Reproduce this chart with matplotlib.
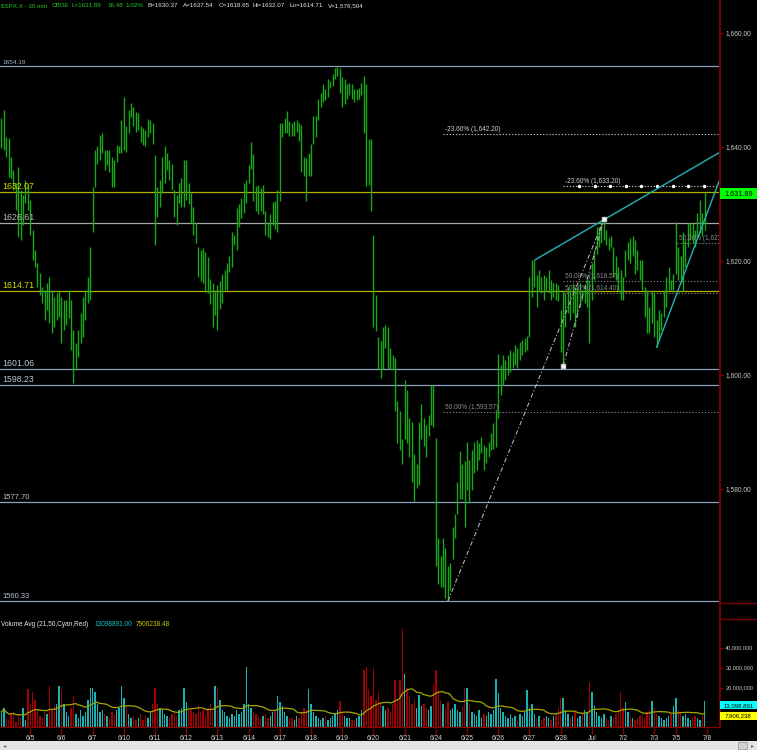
import numpy as np
import pandas as pd
import matplotlib
matplotlib.use("Agg")
import matplotlib.pyplot as plt
from matplotlib.lines import Line2D
from matplotlib.patches import Rectangle
from matplotlib import transforms

plt.rcParams['font.family'] = ['Liberation Sans', 'DejaVu Sans']

# ---------------- DATA (30-min bars, SPX) ----------------
day_labels = ['6/4', '6/5', '6/6', '6/7', '6/10', '6/11', '6/12', '6/13', '6/14', '6/17', '6/18',
              '6/19', '6/20', '6/21', '6/24', '6/25', '6/26', '6/27', '6/28', 'Jul', '7/2', '7/3', '7/5']
next_day_label = '7/8'

h_0604 = [1645.1, 1646.5, 1641.8, 1641.6, 1638.2, 1636.0, 1633.7, 1636.5, 1632.5, 1631.6, 1634.2, 1633.5]
l_0604 = [1639.8, 1639.5, 1638.2, 1634.7, 1634.6, 1632.5, 1629.0, 1624.2, 1623.7, 1626.3, 1630.2, 1629.0]
v_0604 = [8, 10, 5, 4, 7, 8, 3, 6, 5, 10, 4, 19.5]

h_0605 = [1630.7, 1625.4, 1621.9, 1619.6, 1617.9, 1615.4, 1614.9, 1616.1, 1617.2, 1614.9, 1613.7, 1614.4, 1614.9]
l_0605 = [1624.6, 1620.2, 1619.0, 1615.4, 1614.0, 1612.6, 1609.6, 1611.4, 1609.1, 1607.4, 1608.4, 1609.6, 1610.2]
v_0605 = [12, 18, 14, 9, 6, 5, 8, 7, 21, 9, 11, 12, 21]

h_0606 = [1613.7, 1613.2, 1613.2, 1614.9, 1613.2, 1607.9, 1605.6, 1607.9, 1610.9, 1613.7, 1614.9, 1617.2, 1622.5]
l_0606 = [1605.6, 1607.9, 1608.8, 1610.0, 1604.4, 1598.6, 1600.9, 1603.2, 1605.6, 1606.7, 1609.6, 1612.6, 1613.2]
v_0606 = [19.5, 12, 8, 6, 10, 16, 7, 5, 9, 6, 8, 14, 20]

h_0607 = [1633.0, 1639.5, 1640.1, 1642.1, 1642.5, 1639.5, 1639.5, 1639.5, 1638.3, 1637.7, 1640.4, 1640.1, 1644.7]
l_0607 = [1625.1, 1633.0, 1637.1, 1637.7, 1638.9, 1636.0, 1636.8, 1635.7, 1633.0, 1633.0, 1637.4, 1638.9, 1638.9]
v_0607 = [20, 18, 12, 8, 9, 7, 6, 5, 8, 7, 9, 10, 21]

h_0610 = [1648.7, 1643.6, 1646.5, 1647.7, 1647.1, 1646.2, 1646.0, 1643.6, 1643.3, 1643.0, 1645.0, 1644.7, 1644.2]
l_0610 = [1639.5, 1639.2, 1642.5, 1645.3, 1643.6, 1642.7, 1642.9, 1640.9, 1640.4, 1640.1, 1641.8, 1642.5, 1640.6]
v_0610 = [15, 11, 7, 5, 6, 4, 5, 7, 4, 6, 5, 8, 12]

h_0611 = [1638.6, 1633.0, 1634.2, 1638.3, 1640.1, 1638.9, 1637.7, 1637.1, 1632.5, 1631.6, 1633.7, 1634.6, 1637.7]
l_0611 = [1622.8, 1627.8, 1629.5, 1631.9, 1633.6, 1636.0, 1634.2, 1632.5, 1627.8, 1626.4, 1630.2, 1629.5, 1629.5]
v_0611 = [20, 12, 10, 9, 7, 6, 5, 7, 8, 6, 9, 10, 20]

h_0612 = [1637.7, 1633.6, 1631.9, 1629.5, 1626.9, 1622.5, 1621.9, 1622.2, 1621.5, 1620.7, 1616.8, 1616.1, 1614.5]
l_0612 = [1630.7, 1630.0, 1626.7, 1624.6, 1623.1, 1617.2, 1616.5, 1616.1, 1614.5, 1614.4, 1612.5, 1608.5, 1610.5]
v_0612 = [13, 10, 9, 8, 7, 11, 8, 9, 6, 10, 12, 9, 21]

h_0613 = [1615.8, 1616.5, 1617.7, 1618.4, 1619.6, 1620.8, 1625.1, 1624.6, 1629.3, 1630.0, 1631.0, 1633.7, 1634.2]
l_0613 = [1607.9, 1611.5, 1612.6, 1614.9, 1615.0, 1618.0, 1619.0, 1622.8, 1621.9, 1626.0, 1627.6, 1628.4, 1630.2]
v_0613 = [20, 14, 9, 8, 6, 5, 7, 6, 9, 7, 8, 12, 30.5]

h_0614 = [1636.8, 1640.8, 1638.7, 1633.1, 1633.4, 1632.8, 1633.4, 1628.8, 1626.9, 1628.2, 1630.3, 1630.6, 1632.5]
l_0614 = [1633.7, 1636.2, 1630.6, 1628.8, 1628.2, 1628.8, 1628.2, 1624.5, 1624.2, 1623.9, 1626.3, 1625.7, 1625.1]
v_0614 = [12, 10, 8, 7, 6, 5, 6, 7, 5, 6, 8, 9, 16]

h_0617 = [1644.2, 1644.2, 1645.1, 1646.4, 1644.5, 1644.2, 1644.5, 1644.8, 1644.2, 1643.9, 1638.3, 1638.0, 1638.9]
l_0617 = [1630.6, 1641.7, 1642.4, 1642.4, 1642.0, 1642.0, 1642.0, 1642.7, 1641.1, 1635.6, 1634.9, 1630.6, 1634.9]
v_0617 = [13, 11, 8, 6, 5, 5, 4, 6, 5, 8, 10, 9, 19.5]

h_0618 = [1640.5, 1645.4, 1645.4, 1648.5, 1649.4, 1651.0, 1650.1, 1651.9, 1651.6, 1652.8, 1653.8, 1654.1, 1653.8]
l_0618 = [1634.9, 1640.5, 1641.7, 1644.8, 1647.0, 1647.9, 1648.2, 1648.8, 1650.4, 1650.7, 1651.9, 1652.5, 1649.4]
v_0618 = [12, 8, 6, 5, 4, 5, 6, 4, 5, 6, 7, 9, 13.5]

h_0619 = [1652.2, 1651.9, 1651.0, 1651.3, 1651.0, 1650.1, 1650.1, 1650.4, 1651.3, 1652.5, 1651.0, 1641.4, 1641.4]
l_0619 = [1647.0, 1647.6, 1648.5, 1649.1, 1648.5, 1647.9, 1648.2, 1648.5, 1649.1, 1642.4, 1633.1, 1633.4, 1628.8]
v_0619 = [8, 6, 5, 5, 4, 4, 5, 6, 9, 29, 30.5, 19.5, 16]

h_0620 = [1624.5, 1614.0, 1606.6, 1606.0, 1608.4, 1608.7, 1608.4, 1604.7, 1603.5, 1602.9, 1595.5, 1593.6, 1588.7]
l_0620 = [1608.4, 1607.8, 1601.0, 1599.5, 1601.0, 1604.7, 1601.0, 1601.0, 1601.0, 1593.6, 1588.1, 1586.9, 1584.4]
v_0620 = [30, 14, 18, 12, 11, 9, 10, 8, 12, 24, 14, 24, 49.5]

h_0621 = [1599.2, 1597.3, 1592.4, 1591.8, 1586.2, 1584.4, 1591.8, 1594.9, 1592.4, 1591.2, 1593.0, 1598.3, 1598.3]
l_0621 = [1588.7, 1588.1, 1585.6, 1581.3, 1577.9, 1580.1, 1580.7, 1588.7, 1587.5, 1585.6, 1589.3, 1591.2, 1590.9]
v_0621 = [27, 20, 16, 12, 14, 10, 16.5, 11, 12, 10, 9, 11, 22]

h_0624 = [1589.0, 1571.4, 1568.3, 1571.4, 1569.6, 1566.5, 1567.1, 1573.3, 1575.7, 1581.3, 1586.6, 1584.4, 1585.0]
l_0624 = [1566.5, 1563.4, 1562.8, 1562.8, 1560.9, 1560.3, 1562.2, 1567.7, 1571.4, 1575.7, 1578.2, 1578.2, 1573.3]
v_0624 = [29, 19, 14, 12, 10, 13, 9, 10, 12, 9, 8, 11, 20]

h_0625 = [1588.3, 1585.1, 1586.8, 1588.3, 1588.6, 1588.0, 1589.2, 1587.7, 1587.4, 1588.3, 1589.8, 1591.5, 1593.9]
l_0625 = [1579.8, 1577.5, 1579.8, 1582.8, 1583.3, 1585.1, 1586.3, 1583.3, 1584.5, 1585.7, 1586.8, 1587.1, 1587.4]
v_0625 = [20, 12, 8, 7, 6, 9, 5, 7, 6, 8, 7, 9, 24.5]

h_0626 = [1603.7, 1601.8, 1603.5, 1602.6, 1603.5, 1604.4, 1604.0, 1605.3, 1604.7, 1605.8, 1606.1, 1606.5, 1606.8]
l_0626 = [1592.5, 1596.5, 1598.2, 1599.1, 1600.0, 1600.5, 1601.2, 1601.8, 1601.2, 1602.6, 1603.5, 1604.0, 1604.4]
v_0626 = [17.5, 10, 8, 6, 5, 7, 5, 6, 4, 7, 6, 8, 19]

h_0627 = [1617.2, 1620.2, 1620.2, 1617.5, 1618.4, 1617.2, 1617.5, 1617.2, 1618.4, 1616.7, 1616.1, 1616.1, 1615.8]
l_0627 = [1606.7, 1613.7, 1615.5, 1612.0, 1614.9, 1614.3, 1613.1, 1614.9, 1614.3, 1613.1, 1613.7, 1613.1, 1612.9]
v_0627 = [10, 12, 7, 5, 6, 4, 5, 6, 5, 4, 6, 7, 10]

h_0628 = [1611.4, 1614.9, 1614.3, 1615.5, 1614.9, 1616.1, 1615.5, 1615.5, 1616.1, 1614.9, 1615.5, 1617.2, 1616.7]
l_0628 = [1604.0, 1601.5, 1608.5, 1610.8, 1609.6, 1610.8, 1608.5, 1610.2, 1612.0, 1613.1, 1612.6, 1612.0, 1605.6]
v_0628 = [15, 15, 9, 7, 5, 6, 8, 5, 6, 7, 9, 8, 23]

h_0701 = [1619.6, 1621.9, 1626.0, 1626.0, 1627.2, 1627.4, 1625.4, 1624.0, 1624.3, 1622.5, 1620.8, 1619.0, 1618.4]
l_0701 = [1613.1, 1616.7, 1621.3, 1622.5, 1623.1, 1623.7, 1622.8, 1621.9, 1622.5, 1617.2, 1616.7, 1614.9, 1613.1]
v_0701 = [18, 11, 8, 6, 5, 7, 5, 4, 6, 5, 7, 9, 18]

h_0702 = [1617.2, 1621.9, 1623.4, 1624.0, 1624.3, 1623.7, 1621.9, 1620.2, 1620.2, 1615.5, 1614.9, 1612.0, 1614.9]
l_0702 = [1613.1, 1617.2, 1620.2, 1619.6, 1620.8, 1617.8, 1618.4, 1616.7, 1614.9, 1610.2, 1607.3, 1607.3, 1609.1]
v_0702 = [10, 13, 8, 6, 5, 4, 5, 6, 7, 5, 8, 9, 13.5]

h_0703 = [1614.3, 1609.6, 1611.4, 1610.8, 1614.9, 1617.2, 1619.0, 1616.7, 1617.8]
l_0703 = [1606.7, 1605.0, 1606.1, 1607.9, 1610.2, 1612.0, 1614.9, 1614.9, 1614.9]
v_0703 = [10, 7, 6, 5, 4, 5, 6, 7, 11]

h_0705 = [1626.9, 1622.5, 1620.8, 1625.1, 1623.7, 1626.6, 1626.6, 1626.6, 1625.4, 1628.4, 1630.7, 1628.4, 1632.07]
l_0705 = [1617.8, 1616.7, 1616.1, 1614.71, 1619.0, 1622.5, 1623.7, 1623.1, 1622.5, 1624.3, 1624.9, 1624.3, 1625.4]
v_0705 = [15, 9, 8, 6, 7, 5, 4, 5, 6, 5, 4, 6, 13.098891]

# horizontal support / resistance levels
levels = [1654.19, 1632.07, 1626.61, 1614.71, 1601.06, 1598.23, 1577.70, 1560.33]
level_line_colors = ['#8da3bf', '#b2b200', '#a6a6a6', '#b2b200', '#8da3bf', '#8da3bf', '#8da3bf', '#8da3bf']
level_text_colors = ['#a3b6cf', '#dada00', '#b8b8b8', '#dada00', '#b9c7d9', '#b9c7d9', '#b9c7d9', '#b9c7d9']
level_text_sizes = [4.6, 6.3, 6.3, 6.3, 6.3, 6.3, 5.4, 5.4]

# Fibonacci extension / retracement lines: (start bar, price, label)
fib_start = [184, 234, 234, 234, 184, 281.5]
fib_price = [1642.20, 1633.20, 1616.57, 1614.40, 1593.57, 1623.18]
fib_label = ['-23.60% (1,642.20)', '-23.60% (1,633.20)', '50.00% (1,616.57)',
             '50.00% (1,614.40)', '50.00% (1,593.57)', '50.00% (1,623.18)']

# trend lines (bar index, price)
trend1_x = [222.3, 299.0]
trend1_y = [1620.2, 1639.0]
trend2_x = [273.0, 299.0]
trend2_y = [1604.9, 1634.0]
# fib anchor swing points
swing_x = [186, 234, 251]
swing_y = [1560.33, 1601.6, 1627.3]

last_price = 1631.89
last_volume = 13098891
avg_volume = 7906238.48
price_ticks = [1580, 1600, 1620, 1640, 1660]
vol_ticks = [20, 30, 40]  # millions

# ---------------- assemble ----------------
day_h = [h_0604, h_0605, h_0606, h_0607, h_0610, h_0611, h_0612, h_0613, h_0614, h_0617, h_0618, h_0619,
         h_0620, h_0621, h_0624, h_0625, h_0626, h_0627, h_0628, h_0701, h_0702, h_0703, h_0705]
day_l = [l_0604, l_0605, l_0606, l_0607, l_0610, l_0611, l_0612, l_0613, l_0614, l_0617, l_0618, l_0619,
         l_0620, l_0621, l_0624, l_0625, l_0626, l_0627, l_0628, l_0701, l_0702, l_0703, l_0705]
day_v = [v_0604, v_0605, v_0606, v_0607, v_0610, v_0611, v_0612, v_0613, v_0614, v_0617, v_0618, v_0619,
         v_0620, v_0621, v_0624, v_0625, v_0626, v_0627, v_0628, v_0701, v_0702, v_0703, v_0705]
highs = np.concatenate(day_h)
lows = np.concatenate(day_l)
vols = np.concatenate(day_v)
n = len(highs)
idx = np.arange(n)
counts = [len(d) for d in day_h]
starts = np.cumsum([0] + counts)          # start index of every day (+ next day)
tick_pos = list(starts[1:])
tick_lab = day_labels[1:] + [next_day_label]

mid = (highs + lows) / 2
up = np.concatenate([[True], mid[1:] >= mid[:-1]])
vcol = np.where(up, '#19b3b3', '#a40000')
ma = pd.Series(vols).rolling(21, min_periods=1).mean().values

# ---------------- figure ----------------
W, H = 757, 750
fig = plt.figure(figsize=(W / 100, H / 100), dpi=100, facecolor='black')
def fx(px): return px / W
def fy(py): return 1 - py / H

ax = fig.add_axes([0, fy(605), fx(719), 605 / H], facecolor='black')
vax = fig.add_axes([0, fy(727.5), fx(719), (727.5 - 605) / H], facecolor='black')
for a in (ax, vax):
    for s in a.spines.values():
        s.set_visible(False)
    a.set_xlim(-0.625, 298.96)
ax.set_ylim(1559.65, 1665.79)
vax.set_ylim(0, 61.25)

# price bars
ax.vlines(idx, lows, highs, color='#18a818', lw=1.0, zorder=3)

# level lines + labels
for lv, lc, tc, ts in zip(levels, level_line_colors, level_text_colors, level_text_sizes):
    ax.axhline(lv, color=lc, lw=0.9, zorder=2)
    ax.annotate(f'{lv:.2f}', xy=(0, lv), xycoords=('axes fraction', 'data'),
                xytext=(2, 1.2), textcoords='offset pixels', color=tc, fontsize=ts,
                va='bottom', ha='left', zorder=4)

# fib lines
lift = transforms.offset_copy(ax.transData, fig=fig, x=0, y=1.0, units='dots')
for fs, fp, fl in zip(fib_start, fib_price, fib_label):
    neg = fl.startswith('-')
    lc = '#b8b8b8' if neg else '#7a7a7a'
    tc = '#c8d0d8' if neg else '#8c8c8c'
    ax.plot([fs, 299], [fp, fp], color=lc, lw=0.8, ls=(0, (1.2, 1.6)), zorder=2)
    ax.text(fs + 0.8, fp, fl, transform=lift, color=tc, fontsize=4.7,
            va='bottom', ha='left', zorder=4, clip_on=True)
# white dots on the 1633.20 extension
dots = np.arange(fib_start[1] + 6.6, 298, 6.5)
ax.plot(dots, np.full(len(dots), fib_price[1]), 'o', ms=1.5, color='white', zorder=5)

# fib swing dashed lines
ax.plot([swing_x[0], swing_x[2]], [swing_y[0], swing_y[2]], color='#b0b0b0', lw=0.8,
        ls=(0, (4, 2, 1, 2)), zorder=4)
ax.plot([swing_x[1], swing_x[2]], [swing_y[1], swing_y[2]], color='#b0b0b0', lw=0.8,
        ls=(0, (4, 2, 1, 2)), zorder=4)
ax.plot(swing_x[1:], swing_y[1:], 's', ms=3.2, color='white', mec='#d0d0d0', zorder=6)

# trend lines
ax.plot(trend1_x, trend1_y, color='#1fb5b5', lw=1.0, zorder=5, clip_on=True)
ax.plot(trend2_x, trend2_y, color='#1fb5b5', lw=1.0, zorder=5, clip_on=True)

# right price axis
ax.yaxis.tick_right()
ax.set_yticks(price_ticks)
ax.set_yticklabels([f'{p:,.2f}' for p in price_ticks])
ax.tick_params(axis='y', direction='out', length=3, width=1, color='#8a0000',
               labelcolor='#c8c8c8', labelsize=4.8, pad=1.5)
ax.set_xticks([])

# volume panel
vax.bar(idx, vols, width=0.65, color=vcol, zorder=2)
vax.plot(idx, ma, color='#a6a600', lw=0.9, zorder=3)
vax.axhline(0, color='#8a0000', lw=1.6, zorder=4)
vax.yaxis.tick_right()
vax.set_yticks(vol_ticks)
vax.set_yticklabels([f'{int(v * 1e6):,}' for v in vol_ticks])
vax.tick_params(axis='y', direction='out', length=3, width=1, color='#8a0000',
                labelcolor='#c8c8c8', labelsize=4.0, pad=1.5)
vax.set_xticks(tick_pos)
vax.set_xticklabels(tick_lab)
vax.tick_params(axis='x', direction='out', length=4, width=1, color='#8a0000',
                labelcolor='#d4d4d4', labelsize=4.8, pad=1.2)

fig.canvas.draw()

# right-edge value boxes
def ypix(a, val):
    return a.transData.transform((0, val))[1]

yp = ypix(ax, last_price)
fig.add_artist(Rectangle((720, yp - 5.5), 37, 11, transform=None, facecolor='#00ff00',
                         edgecolor='none', zorder=10))
fig.text(fx(738.5), yp / H, f'{last_price:,.2f}', color='black', fontsize=5.2,
         ha='center', va='center', zorder=11)

yv = ypix(vax, last_volume / 1e6)
fig.add_artist(Rectangle((720, yv - 8), 37, 8, transform=None, facecolor='#00ffff',
                         edgecolor='none', zorder=10))
fig.text(fx(738.5), (yv - 4) / H, f'{last_volume:,}', color='black', fontsize=4.3,
         ha='center', va='center', zorder=11)
ya = ypix(vax, avg_volume / 1e6)
fig.add_artist(Rectangle((720, ya - 8), 37, 8, transform=None, facecolor='#ffff00',
                         edgecolor='none', zorder=10))
fig.text(fx(738.5), (ya - 4) / H, f'{int(avg_volume):,}', color='black', fontsize=4.3,
         ha='center', va='center', zorder=11)

# axis frame lines (dark red)
fig.add_artist(Line2D([fx(719.5)] * 2, [fy(0), fy(728)], color='#7a0000', lw=1.3))
fig.add_artist(Line2D([fx(719.5), 1], [fy(603)] * 2, color='#7a0000', lw=1.0))
fig.add_artist(Line2D([fx(719.5), 1], [fy(619)] * 2, color='#7a0000', lw=1.0))

# header
green, white = '#22c822', '#e6e6e6'
header = [(1, '$SPX.X - 30 min', green), (52, 'CBOE', green), (71, 'L=1631.89', green),
          (107, '16.48', green), (125, '1.02%', green), (147, 'B=1630.37', white),
          (183, 'A=1637.54', white), (219, 'O=1618.65', white), (253, 'Hi=1632.07', white),
          (290, 'Lo=1614.71', white), (328, 'V=1,576,504', white)]
for hx, ht, hc in header:
    fig.text(fx(hx), fy(5.5), ht, color=hc, fontsize=4.5, ha='left', va='center')

# volume legend
fig.text(fx(1), fy(624), 'Volume Avg (21,50,Cyan,Red)', color='#e6e6e6', fontsize=4.7, va='center')
fig.text(fx(95), fy(624), f'{last_volume:.2f}', color='#19c0c0', fontsize=4.7, va='center')
fig.text(fx(136), fy(624), f'{avg_volume:.2f}', color='#c8c800', fontsize=4.7, va='center')

# bottom scroll strip
fig.add_artist(Rectangle((0, 0), 757, 9.5, transform=None, facecolor='#e4e4e4', edgecolor='none'))
fig.add_artist(Rectangle((738, 1.5), 9, 7, transform=None, facecolor='#d0d0d0', edgecolor='#a0a0a0', lw=0.6))
fig.text(fx(3), fy(745.5), '\u25c2', color='#707070', fontsize=4.5, va='center',
         family=['DejaVu Sans'])
fig.text(fx(751), fy(745.5), '\u25b8', color='#707070', fontsize=4.5, va='center',
         family=['DejaVu Sans'])

fig.savefig('out.png', dpi=100, facecolor='black')
